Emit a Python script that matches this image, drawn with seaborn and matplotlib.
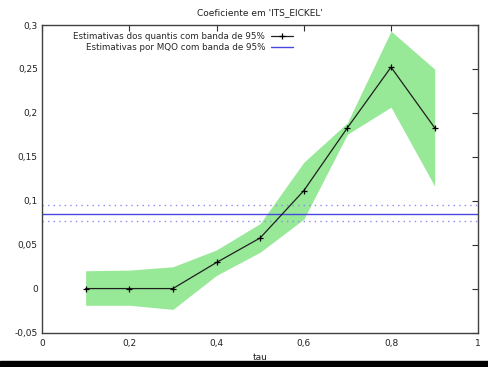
import matplotlib
matplotlib.use("Agg")
import matplotlib.pyplot as plt
import seaborn as sns
import pandas as pd
from matplotlib.patches import Rectangle

tau = [0.1, 0.2, 0.3, 0.4, 0.5, 0.6, 0.7, 0.8, 0.9]
coef = [0.0, 0.0, 0.0, 0.0297, 0.0576, 0.1114, 0.183, 0.252, 0.183]
lower = [-0.019, -0.019, -0.0237, 0.015, 0.0414, 0.079, 0.1757, 0.2065, 0.1166]
upper = [0.0203, 0.021, 0.0248, 0.044, 0.074, 0.1437, 0.1888, 0.293, 0.2498]
ols = 0.0854
ols_lo = 0.0764
ols_hi = 0.0948

xticks = [0, 0.2, 0.4, 0.6, 0.8, 1.0]
xticklabels = ["0", "0,2", "0,4", "0,6", "0,8", "1"]
yticks = [-0.05, 0, 0.05, 0.1, 0.15, 0.2, 0.25, 0.3]
yticklabels = ["-0,05", "0", "0,05", "0,1", "0,15", "0,2", "0,25", "0,3"]

title = "Coeficiente em 'ITS_EICKEL'"
label_q = "Estimativas dos quantis com banda de 95%"
label_ols = "Estimativas por MQO com banda de 95%"

sns.set_theme(style="white")
plt.rcParams["font.family"] = ["DejaVu Sans"]
plt.rcParams["font.size"] = 6.3

df = pd.DataFrame({"tau": tau, "coef": coef, "lower": lower, "upper": upper})

fig = plt.figure(figsize=(4.88, 3.67), dpi=100)
ax = fig.add_axes([42 / 488, 1 - 332.5 / 367, (478.3 - 42) / 488, (332.5 - 25) / 367])

ax.fill_between(df["tau"], df["lower"], df["upper"], color="#97e897", linewidth=0, zorder=1)
ax.axhline(ols_hi, color="#8c8cf5", linestyle=(0, (1, 3)), linewidth=1.0, zorder=2)
ax.axhline(ols_lo, color="#8c8cf5", linestyle=(0, (1, 3)), linewidth=1.0, zorder=2)
ax.axhline(ols, color="#4848e0", linewidth=1.0, zorder=2, label=label_ols)
sns.lineplot(data=df, x="tau", y="coef", ax=ax, color="#202020", linewidth=0.9,
             marker="+", markersize=4.5, markeredgewidth=0.9, markeredgecolor="black",
             label=label_q, zorder=3)

ax.set_xlim(0, 1)
ax.set_ylim(-0.05, 0.3)
ax.set_xticks(xticks)
ax.set_xticklabels(xticklabels)
ax.set_yticks(yticks)
ax.set_yticklabels(yticklabels)
ax.tick_params(axis="both", which="both", direction="in", length=4, width=0.8,
               color="#303030", top=True, right=True, labelsize=6.5, labelcolor="#202020", pad=3)
ax.tick_params(axis="x", pad=5)
for s in ax.spines.values():
    s.set_color("#404040")
    s.set_linewidth(1.0)
    s.set_visible(True)
ax.set_xlabel("tau", fontsize=6.5, labelpad=3, color="#202020")
ax.set_ylabel("")
ax.set_title(title, fontsize=6.5, pad=7, color="#202020")

handles, labels = ax.get_legend_handles_labels()
order = [labels.index(label_q), labels.index(label_ols)]
leg = ax.legend([handles[i] for i in order], [labels[i] for i in order],
                loc="upper left", bbox_to_anchor=(0.06, 0.995), markerfirst=False, frameon=False,
                handlelength=2.6, handletextpad=0.6, labelspacing=0.3, fontsize=6.3, borderaxespad=0.2)

fig.patches.append(Rectangle((0, 0), 1, 6 / 367, transform=fig.transFigure, color="black", zorder=10))

fig.savefig("out.png", dpi=100)
